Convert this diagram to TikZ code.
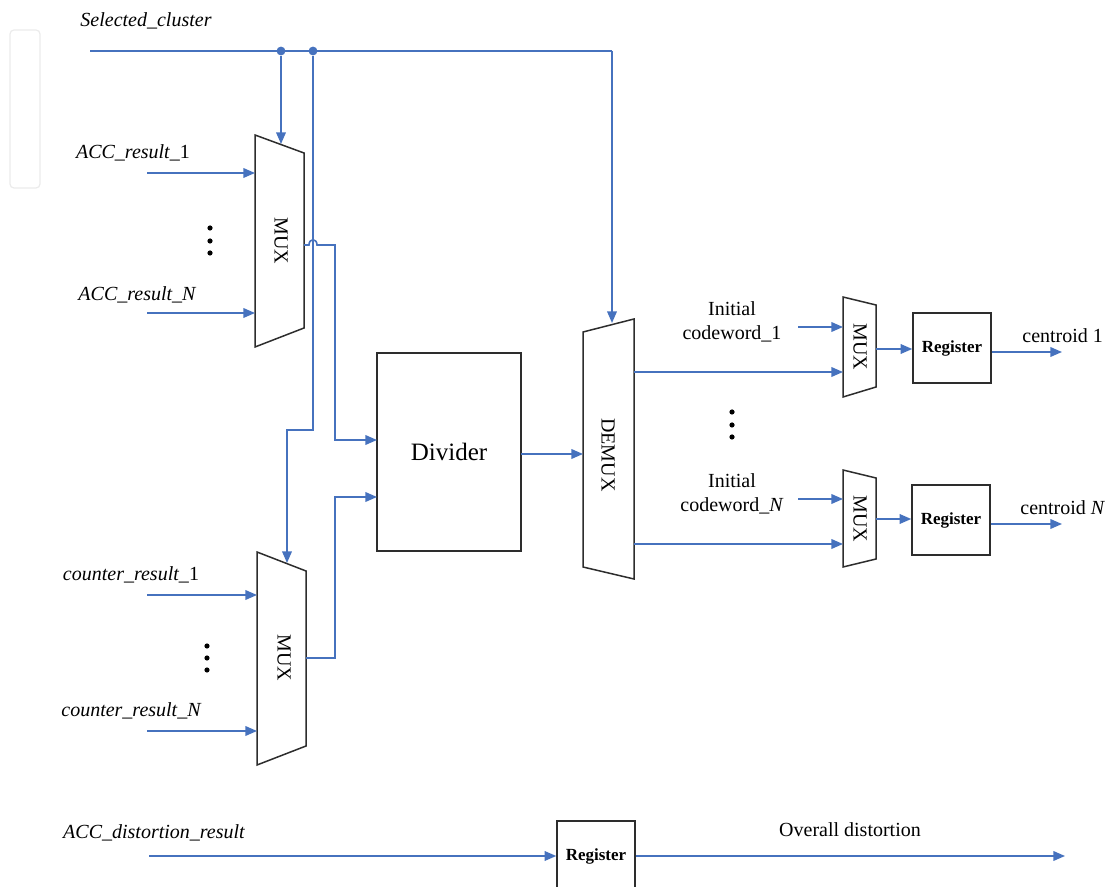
\documentclass[tikz,border=0pt]{standalone}
\usepackage{fontspec}
\setmainfont{Liberation Serif}
\usepackage{tikz}
\usetikzlibrary{arrows.meta}

\definecolor{wireblue}{RGB}{70,114,190}
\definecolor{boxline}{RGB}{45,45,45}

\begin{document}
\begin{tikzpicture}[x=0.5pt, y=-0.5pt,
    wire/.style={draw=wireblue, line width=0.8pt},
    sig/.style={wire, -{Triangle[length=5.8pt,width=4.8pt]}},
    block/.style={draw=boxline, line width=0.75pt},
    regbox/.style={block, minimum width=39pt, minimum height=35pt, inner sep=0pt,
      font=\fontsize{8.5}{10}\selectfont\bfseries},
    lbl/.style={font=\fontsize{10}{12}\selectfont\itshape, inner sep=0pt},
    txt/.style={font=\fontsize{10}{12}\selectfont, inner sep=0pt, align=center},
    vdot/.style={circle, fill=black, inner sep=0pt, minimum size=2.6pt},
    jdot/.style={circle, fill=wireblue, inner sep=0pt, minimum size=4.4pt}]
        \clip (0,0) rectangle (1109,887);

        % faint frame at the far left
        \draw[black!8, line width=0.6pt, rounded corners=2pt] (10,30) rectangle (40,188);

        % Selected cluster bus
        \node[lbl] (selcl) at (146,21) {Selected\_cluster};
        \coordinate (busin) at (90,51);
        \node[jdot] (j1) at (281,51) {};
        \node[jdot] (j2) at (313,51) {};
        \coordinate (busend) at (612,51);
        \coordinate (dmxtop) at (612,323);
        \coordinate (m1top) at (281,144);
        \coordinate (j2down) at (313,430);
        \coordinate (j2left) at (287,430);
        \coordinate (m2top) at (287,563);
        \draw[wire] (busin) -- (busend);
        \draw[sig] (busend) -- (dmxtop);
        \draw[sig] (j1) -- (m1top);
        \draw[sig] (j2) -- (j2down) -- (j2left) -- (m2top);

        % MUX for ACC results
        \draw[block] (255,135) -- (304,153) -- (304,328) -- (255,347) -- cycle;
        \node[txt, rotate=-90] (mux1) at (281,241) {MUX};
        \node[lbl] (acc1) at (133,153) {ACC\_result\_\textup{1}};
        \node[lbl] (accn) at (137,295) {ACC\_result\_\textit{N}};
        \coordinate (acc1s) at (147,173);
        \coordinate (acc1e) at (255,173);
        \coordinate (accns) at (147,313);
        \coordinate (accne) at (255,313);
        \draw[sig] (acc1s) -- (acc1e);
        \draw[sig] (accns) -- (accne);
        \node[vdot] (ad1) at (210,228) {};
        \node[vdot] (ad2) at (210,241) {};
        \node[vdot] (ad3) at (210,253) {};

        % MUX for counter results
        \draw[block] (257,552) -- (306,571) -- (306,746) -- (257,765) -- cycle;
        \node[txt, rotate=-90] (mux2) at (284,658) {MUX};
        \node[lbl] (cnt1) at (131,575) {counter\_result\_\textup{1}};
        \node[lbl] (cntn) at (131,711) {counter\_result\_\textit{N}};
        \coordinate (cnt1s) at (147,595);
        \coordinate (cnt1e) at (257,595);
        \coordinate (cntns) at (147,731);
        \coordinate (cntne) at (257,731);
        \draw[sig] (cnt1s) -- (cnt1e);
        \draw[sig] (cntns) -- (cntne);
        \node[vdot] (cd1) at (207,646) {};
        \node[vdot] (cd2) at (207,658) {};
        \node[vdot] (cd3) at (207,670) {};

        % Divider
        \node[block, minimum width=72pt, minimum height=99pt, inner sep=0pt,
          font=\fontsize{12.5}{14}\selectfont] (div) at (449,452) {Divider};
        \coordinate (m1out) at (304,245);
        \coordinate (divin1) at (377,440);
        \coordinate (m2out) at (306,658);
        \coordinate (divin2) at (377,497);
        \draw[sig] (m1out) -- (309,245) .. controls (309,238) and (317,238) .. (317,245)
          -- (335,245) -- (335,440) -- (divin1);
        \draw[sig] (m2out) -- (335,658) -- (335,497) -- (divin2);

        % DEMUX
        \draw[block] (583,332) -- (634,319) -- (634,579) -- (583,567) -- cycle;
        \node[txt, rotate=-90] (demux) at (608,455) {DEMUX};
        \coordinate (divout) at (521,454);
        \coordinate (dmxin) at (583,454);
        \draw[sig] (divout) -- (dmxin);

        % output branch 1
        \draw[block] (843,297) -- (876,305) -- (876,387) -- (843,397) -- cycle;
        \node[txt, rotate=-90] (mux3) at (860,347) {MUX};
        \node[txt] (init1) at (732,322) {Initial\\codeword\_1};
        \coordinate (init1s) at (798,327);
        \coordinate (init1e) at (843,327);
        \coordinate (dmx1) at (634,372);
        \coordinate (m3in) at (843,372);
        \draw[sig] (init1s) -- (init1e);
        \draw[sig] (dmx1) -- (m3in);
        \node[regbox] (reg1) at (952,348) {Register};
        \coordinate (m3out) at (876,349);
        \draw[sig] (m3out) -- (reg1.west |- m3out);
        \node[txt, anchor=west] (cen1) at (1022,336) {centroid 1};
        \coordinate (cen1e) at (1062,352);
        \draw[sig] (reg1.east |- cen1e) -- (cen1e);

        \node[vdot] (rd1) at (732,412) {};
        \node[vdot] (rd2) at (732,425) {};
        \node[vdot] (rd3) at (732,437) {};

        % output branch N
        \draw[block] (843,470) -- (876,478) -- (876,559) -- (843,567) -- cycle;
        \node[txt, rotate=-90] (mux4) at (860,519) {MUX};
        \node[txt] (initn) at (732,494) {Initial\\codeword\_\textit{N}};
        \coordinate (initns) at (798,499);
        \coordinate (initne) at (843,499);
        \coordinate (dmxn) at (634,544);
        \coordinate (m4in) at (843,544);
        \draw[sig] (initns) -- (initne);
        \draw[sig] (dmxn) -- (m4in);
        \node[regbox] (regn) at (951,520) {Register};
        \coordinate (m4out) at (876,519);
        \draw[sig] (m4out) -- (regn.west |- m4out);
        \node[txt, anchor=west] (cenn) at (1020,508) {centroid \textit{N}};
        \coordinate (cenne) at (1062,524);
        \draw[sig] (regn.east |- cenne) -- (cenne);

        % distortion path
        \node[lbl] (dist) at (154,833) {ACC\_distortion\_result};
        \node[regbox] (reg0) at (596,856) {Register};
        \coordinate (dists) at (149,856);
        \coordinate (diste) at (1065,856);
        \draw[sig] (dists) -- (reg0);
        \node[txt] (ovd) at (850,830) {Overall distortion};
        \draw[sig] (reg0) -- (diste);
    \end{tikzpicture}
\end{document}
